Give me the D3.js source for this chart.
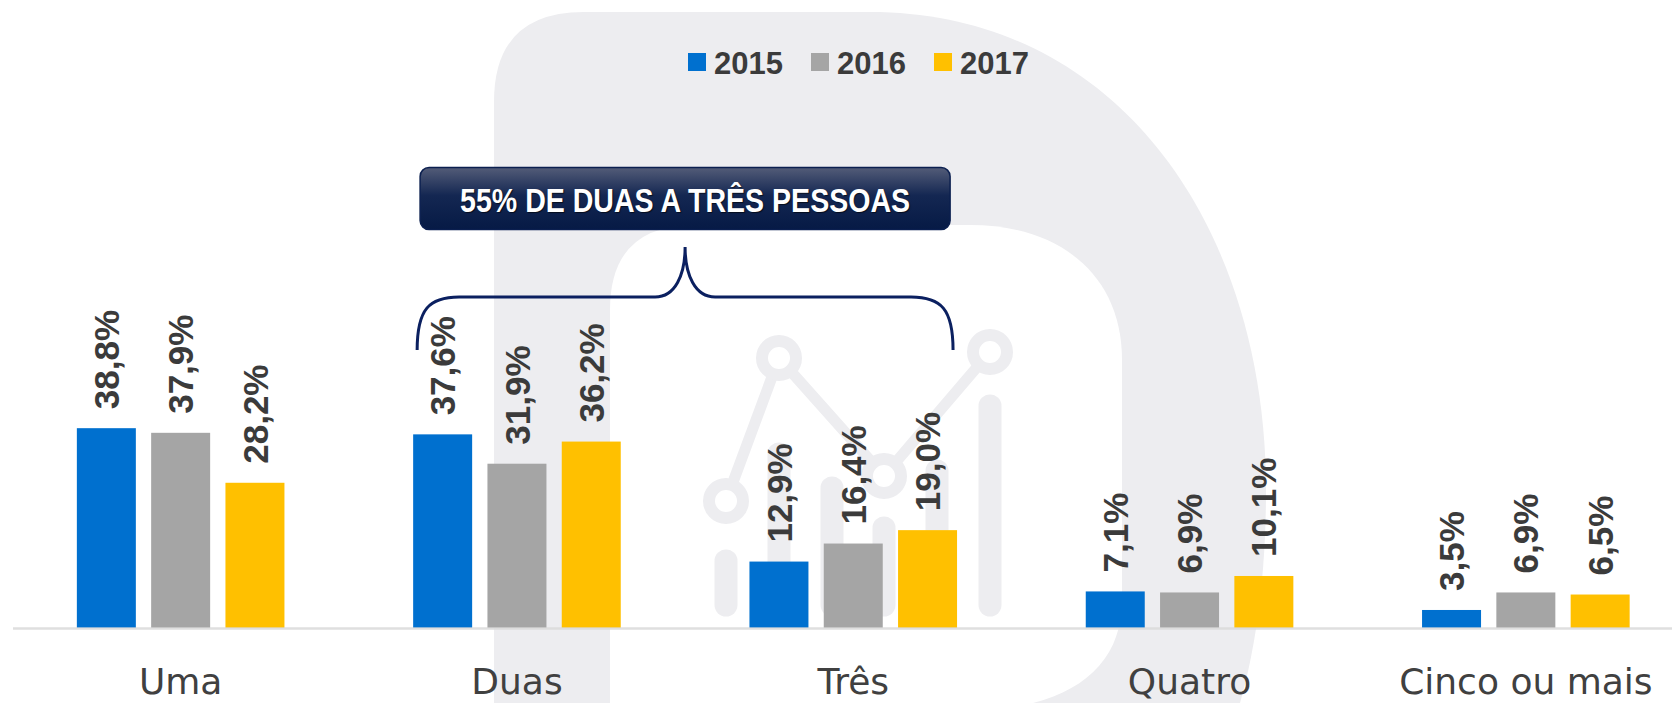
<!DOCTYPE html>
<html>
<head>
<meta charset="utf-8">
<script src="https://cdn.jsdelivr.net/npm/d3@7"></script>
<style>
  body { margin: 0; background: #fff; }
  svg { display: block; }
</style>
</head>
<body>
<div id="chart"></div>
<script>
// chart data
var categories = ["Uma", "Duas", "Três", "Quatro", "Cinco ou mais"];
var years = ["2015", "2016", "2017"];
var values2015 = [38.8, 37.6, 12.9, 7.1, 3.5];
var values2016 = [37.9, 31.9, 16.4, 6.9, 6.9];
var values2017 = [28.2, 36.2, 19.0, 10.1, 6.5];
var yearColors = ["#0070cf", "#a5a5a5", "#ffc000"];
var calloutText = "55% DE DUAS A TRÊS PESSOAS";
var bracketFrom = "Duas", bracketTo = "Três";

var seriesValues = [values2015, values2016, values2017];
var data = categories.map(function(c, i) {
  return {
    category: c,
    values: years.map(function(y, j) { return { year: y, value: seriesValues[j][i] }; })
  };
});

var width = 1672, height = 703;
var baseline = 628;

var svg = d3.select("#chart")
  .append("svg")
    .attr("width", width)
    .attr("height", height);

var defs = svg.append("defs");
var grad = defs.append("linearGradient")
  .attr("id", "boxGrad")
  .attr("x1", 0).attr("y1", 0).attr("x2", 0).attr("y2", 1);
grad.append("stop").attr("offset", "0%").attr("stop-color", "#535c78");
grad.append("stop").attr("offset", "45%").attr("stop-color", "#142752");
grad.append("stop").attr("offset", "100%").attr("stop-color", "#061a45");

// background watermark (decoration)
var wm = svg.append("g").attr("class", "watermark");
var wmGray = "#ededf0";
wm.append("path")
  .attr("fill", wmGray)
  .attr("d", "M494,703 L494,102 Q494,12 584,12 L870,12 C1120,12 1266,230 1266,490 C1266,580 1255,650 1240,703 Z");
wm.append("path")
  .attr("fill", "#fff")
  .attr("d", "M610,710 L610,310 Q610,225 695,225 L970,225 C1060,225 1122,275 1122,360 L1122,600 C1122,665 1075,703 990,710 Z");

// icon: bars, line, rings
var iconBars = [[726, 550], [779, 443], [832, 477], [884, 517], [937, 460], [990, 395]];
wm.selectAll("line.ibar")
  .data(iconBars)
  .join("line")
    .attr("class", "ibar")
    .attr("x1", function(d) { return d[0]; })
    .attr("x2", function(d) { return d[0]; })
    .attr("y1", function(d) { return d[1] + 11; })
    .attr("y2", 605)
    .attr("stroke", wmGray)
    .attr("stroke-width", 23)
    .attr("stroke-linecap", "round");
var iconRings = [[726, 501], [779, 358], [884, 476], [990, 352]];
wm.append("path")
  .attr("fill", "none")
  .attr("stroke", wmGray)
  .attr("stroke-width", 11)
  .attr("d", d3.line()(iconRings));
wm.selectAll("circle")
  .data(iconRings)
  .join("circle")
    .attr("cx", function(d) { return d[0]; })
    .attr("cy", function(d) { return d[1]; })
    .attr("r", 17)
    .attr("fill", "#fff")
    .attr("stroke", wmGray)
    .attr("stroke-width", 12);

// scales
var x0 = d3.scaleBand()
  .domain(categories)
  .range([12.5, 1694]);

var groupW = 207.6;
var groupOff = (x0.bandwidth() - groupW) / 2;
var x1 = d3.scaleBand()
  .domain(years)
  .range([groupOff, groupOff + groupW])
  .paddingInner(0.206);

var y = d3.scaleLinear()
  .domain([0, 40])
  .range([baseline, baseline - 206]);

var color = d3.scaleOrdinal().domain(years).range(yearColors);
var fmt = function(v) { return d3.format(".1f")(v).replace(".", ",") + "%"; };

// bars
var groups = svg.append("g")
  .selectAll("g")
  .data(data)
  .join("g")
    .attr("transform", function(d) { return "translate(" + x0(d.category) + ",0)"; });

groups.selectAll("rect")
  .data(function(d) { return d.values; })
  .join("rect")
    .attr("x", function(d) { return x1(d.year); })
    .attr("y", function(d) { return y(d.value); })
    .attr("width", x1.bandwidth())
    .attr("height", function(d) { return y(0) - y(d.value); })
    .attr("fill", function(d) { return color(d.year); });

groups.selectAll("text")
  .data(function(d) { return d.values; })
  .join("text")
    .attr("transform", function(d) {
      return "translate(" + (x1(d.year) + x1.bandwidth() / 2) + "," + (y(d.value) - 19) + ") rotate(-90)";
    })
    .attr("dy", "0.36em")
    .attr("text-anchor", "start")
    .style("font-family", "'Liberation Sans', Arial, sans-serif")
    .style("font-weight", "bold")
    .style("font-size", "35px")
    .style("fill", "#3b3b3b")
    .text(function(d) { return fmt(d.value); });

// category axis
var xAxis = svg.append("g")
  .attr("transform", "translate(0," + baseline + ")")
  .call(d3.axisBottom(x0).tickSize(0));
xAxis.select(".domain")
  .attr("stroke", "#d9d9d9")
  .attr("stroke-opacity", 0.85)
  .attr("stroke-width", 2.5);
xAxis.selectAll("text")
  .attr("y", 66)
  .attr("dy", 0)
  .style("font-family", "'DejaVu Sans', sans-serif")
  .style("font-size", "36px")
  .style("fill", "#404040");

// legend
var legend = svg.append("g").attr("transform", "translate(688,53)");
var item = legend.selectAll("g")
  .data(years)
  .join("g")
    .attr("transform", function(d, i) { return "translate(" + (i * 123) + ",0)"; });
item.append("rect")
  .attr("width", 18).attr("height", 18)
  .attr("fill", function(d) { return color(d); });
item.append("text")
  .attr("x", 26).attr("y", 20.5)
  .style("font-family", "'Liberation Sans', Arial, sans-serif")
  .style("font-weight", "bold")
  .style("font-size", "31px")
  .style("fill", "#3b3b3b")
  .text(function(d) { return d; });

// bracket over Duas..Três
var bL = x0(bracketFrom) + x1(years[0]) + 4;
var bR = x0(bracketTo) + x1(years[years.length - 1]) + x1.bandwidth() - 4;
var bM = (bL + bR) / 2;
var bY = 297, bEnd = 350, bTip = 247;
svg.append("path")
  .attr("fill", "none")
  .attr("stroke", "#0b2060")
  .attr("stroke-width", 3)
  .attr("d",
    "M" + bL + "," + bEnd +
    " C" + bL + "," + (bY + 12) + " " + (bL + 12) + "," + bY + " " + (bL + 42) + "," + bY +
    " L" + (bM - 30) + "," + bY +
    " C" + (bM - 10) + "," + bY + " " + bM + "," + (bY - 22) + " " + bM + "," + bTip +
    " C" + bM + "," + (bY - 22) + " " + (bM + 10) + "," + bY + " " + (bM + 30) + "," + bY +
    " L" + (bR - 42) + "," + bY +
    " C" + (bR - 12) + "," + bY + " " + bR + "," + (bY + 12) + " " + bR + "," + bEnd);

// callout box
var boxW = 530, boxH = 62;
svg.append("rect")
  .attr("x", bM - boxW / 2)
  .attr("y", 167.5)
  .attr("width", boxW)
  .attr("height", boxH)
  .attr("rx", 9)
  .attr("fill", "url(#boxGrad)")
  .attr("stroke", "#0b1f4f")
  .attr("stroke-width", 1.5);
svg.append("text")
  .attr("x", bM)
  .attr("y", 212)
  .attr("text-anchor", "middle")
  .attr("textLength", 450)
  .attr("lengthAdjust", "spacingAndGlyphs")
  .style("font-family", "'Liberation Sans Narrow', 'Liberation Sans', sans-serif")
  .style("font-weight", "bold")
  .style("font-size", "33px")
  .style("fill", "#fff")
  .style("text-shadow", "1px 1px 1px rgba(0,0,0,0.6)")
  .text(calloutText);
</script>
</body>
</html>
